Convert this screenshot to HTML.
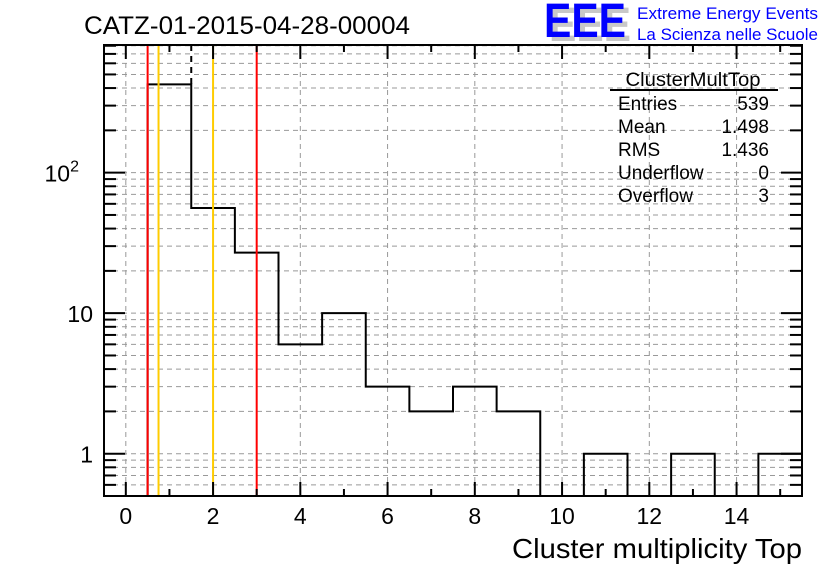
<!DOCTYPE html>
<html><head><meta charset="utf-8"><style>
body{margin:0;background:#fff}
svg{display:block;font-family:"Liberation Sans",Arial,sans-serif}
</style></head><body>
<svg id="c" width="836" height="572" viewBox="0 0 836 572" xmlns="http://www.w3.org/2000/svg">
<rect width="836" height="572" fill="#fff"/>
<g id="grid"></g>
<g id="marks"></g>
<g id="cuts"></g>
<g id="axes"></g>
<text x="84" y="34" font-size="25" textLength="326" lengthAdjust="spacingAndGlyphs">CATZ-01-2015-04-28-00004</text>
<g>
<text x="549" y="41" font-size="48" font-weight="bold" fill="#c8c8c8" textLength="82" lengthAdjust="spacingAndGlyphs">EEE</text>
<text x="544" y="37" font-size="48" font-weight="bold" fill="#0000ff" textLength="82" lengthAdjust="spacingAndGlyphs">EEE</text>
<text x="637" y="19" font-size="17" fill="#0000ff" textLength="181" lengthAdjust="spacingAndGlyphs">Extreme Energy Events</text>
<text x="637" y="40" font-size="17" fill="#0000ff" textLength="181" lengthAdjust="spacingAndGlyphs">La Scienza nelle Scuole</text>
</g>
<g font-size="19">
<text x="693" y="86" text-anchor="middle" textLength="135" lengthAdjust="spacingAndGlyphs">ClusterMultTop</text>
<line x1="610" y1="90" x2="778" y2="90" stroke="#000" stroke-width="2"/>
<text x="618" y="110">Entries</text><text x="769" y="110" text-anchor="end">539</text>
<text x="618" y="133">Mean</text><text x="769" y="133" text-anchor="end">1.498</text>
<text x="618" y="156">RMS</text><text x="769" y="156" text-anchor="end">1.436</text>
<text x="618" y="179">Underflow</text><text x="769" y="179" text-anchor="end">0</text>
<text x="618" y="202">Overflow</text><text x="769" y="202" text-anchor="end">3</text>
</g>
<text x="802" y="558" font-size="28" text-anchor="end" textLength="290" lengthAdjust="spacingAndGlyphs">Cluster multiplicity Top</text>
</svg>
<script>
const binLow = [-0.5,0.5,1.5,2.5,3.5,4.5,5.5,6.5,7.5,8.5,9.5,10.5,11.5,12.5,13.5,14.5];
const counts = [0,425,56,27,6,10,3,2,3,2,0,1,0,1,0,1];
const xTicks = [0,2,4,6,8,10,12,14];
const yMajor = [1,10,100];
const yMajorLabels = ["1","10","10²"];
const redCuts = [0.5,3];
const orangeCuts = [0.75,2];
const dashedCuts = [1.5];
const binWidth = 1;
const L=104,R=802,T=45,B=496,xmin=-0.5,xmax=15.5,ymin=0.5,ymax=810;
const X=v=>L+(v-xmin)/(xmax-xmin)*(R-L);
const Y=v=>B-(Math.log10(v)-Math.log10(ymin))/(Math.log10(ymax)-Math.log10(ymin))*(B-T);
const NS="http://www.w3.org/2000/svg";
function mk(p,tag,a){const e=document.createElementNS(NS,tag);for(const k in a)e.setAttribute(k,a[k]);p.appendChild(e);return e;}
const grid=document.getElementById('grid'),marks=document.getElementById('marks'),cuts=document.getElementById('cuts'),axes=document.getElementById('axes');
const yAll=[];
for(let dec=0.1;dec<=1000;dec*=10)for(let m=1;m<10;m++){const v=Math.round(m*dec*1000)/1000;if(v>=ymin&&v<=ymax)yAll.push(v);}
yAll.forEach(v=>{const g=mk(grid,'line',{x1:L,x2:R,y1:Y(v),y2:Y(v),stroke:'#999','stroke-dasharray':'5,4','stroke-width':1});

});
xTicks.forEach(v=>{const g=mk(grid,'line',{x1:X(v),x2:X(v),y1:T,y2:B,stroke:'#999','stroke-dasharray':'5,4','stroke-width':1});

});
let pathD='',prev=null;
binLow.forEach((lo,i)=>{const c=counts[i];const yy=c>0?Y(c):B;const x0=X(lo),x1=X(lo+binWidth);
if(prev===null)pathD+=`M${x0},${yy}`;else pathD+=`L${x0},${yy}`;pathD+=`L${x1},${yy}`;prev=yy;});
const h=mk(marks,'path',{d:pathD,fill:'none',stroke:'#000','stroke-width':2});


function countAt(v){for(let i=0;i < binLow.length;i++){if(v>=binLow[i]&&v < binLow[i]+binWidth)return counts[i];}return 0;}
function cut(v,col,y2,dash){const a={x1:X(v),x2:X(v),y1:T,y2:y2,stroke:col,'stroke-width':2};if(dash)a['stroke-dasharray']='6,5';return mk(cuts,'line',a);}
redCuts.forEach(v=>{const e=cut(v,'#ff0000',B);

});
orangeCuts.forEach(v=>{const e=cut(v,'#ffcc00',B);

});
dashedCuts.forEach(v=>{const c=Math.max(countAt(v-0.01),countAt(v+0.01));const e=cut(v,'#000',c>0?Y(c):B,true);

});
const f=mk(axes,'rect',{x:L,y:T,width:R-L,height:B-T,fill:'none',stroke:'#000','stroke-width':2});


for(let v=0;v<=15;v++){const len=v%2===0?14:7;
mk(axes,'line',{x1:X(v),x2:X(v),y1:B,y2:B-len,stroke:'#000','stroke-width':2});
mk(axes,'line',{x1:X(v),x2:X(v),y1:T,y2:T+len,stroke:'#000','stroke-width':2});}
xTicks.forEach(v=>{const t=mk(axes,'text',{x:X(v),y:B+28,'font-size':23,'text-anchor':'middle'});t.textContent=v;

});
yAll.forEach(v=>{const maj=yMajor.includes(v);const len=maj?21:12;
mk(axes,'line',{x1:L,x2:L+len,y1:Y(v),y2:Y(v),stroke:'#000','stroke-width':2});
mk(axes,'line',{x1:R,x2:R-len,y1:Y(v),y2:Y(v),stroke:'#000','stroke-width':2});});
yMajor.forEach((v,i)=>{const t=mk(axes,'text',{x:L-11,y:Y(v)+9,'font-size':23,'text-anchor':'end'});
if(v===100){t.textContent='10';const s=mk(t,'tspan',{dy:-10,'font-size':16});s.textContent='2';t.setAttribute('x',L-25);}
else t.textContent=yMajorLabels[i];

});
</script>
</body></html>
